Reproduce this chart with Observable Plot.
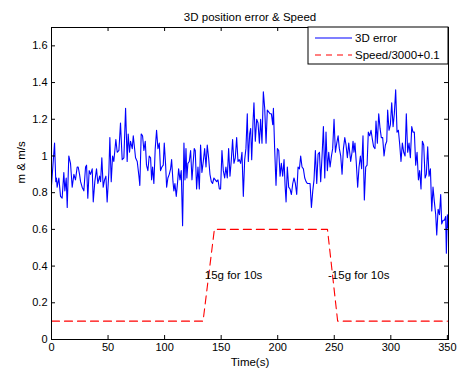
<!DOCTYPE html>
<html><head><meta charset="utf-8">
<script src="https://cdn.jsdelivr.net/npm/d3@7"></script>
<script src="https://cdn.jsdelivr.net/npm/@observablehq/plot@0.6"></script>
<style>body{margin:0;background:#fff}#chart{width:460px;height:374px}</style>
</head><body><div id="chart"></div>
<script>
const titleText = "3D position error & Speed";
const xLabel = "Time(s)";
const yLabel = "m & m/s";
const seriesNames = ["3D error", "Speed/3000+0.1"];
const xTicks = [0, 50, 100, 150, 200, 250, 300, 350];
const yTicks = [0, 0.2, 0.4, 0.6, 0.8, 1, 1.2, 1.4, 1.6];

const errTime = [
0,2.7,3.8,4.4,5.0,6.5,8.0,9.4,10.9,11.8,13.0,13.9,15.3,16.8,18.3,19.8,21.2,22.7,23.6,24.8,25.7,27.1,28.6,30.1,31.0,32.1,33.3,34.5,36.0,36.9,38.3,39.8,41.0,42.5,43.4,44.5,45.7,46.9,48.1,49.2,50.7,51.6,52.8,54.0,55.1,56.9,58.1,59.6,61.0,62.5,64.0,65.5,66.9,67.8,69.0,69.9,71.4,72.3,74.3,75.8,77.3,78.1,79.3,80.5,81.7,82.9,84.0,85.2,86.4,
87.6,88.5,89.4,90.5,91.7,92.9,94.1,95.3,96.4,97.6,98.8,99.7,100.9,101.8,102.9,104.1,105.3,106.2,107.4,108.2,109.1,110.3,111.5,112.4,113.6,114.7,115.9,117.1,118.0,118.9,119.7,120.6,121.8,123.0,124.2,125.1,126.2,127.1,128.3,129.5,130.7,131.8,133.0,134.2,135.4,136.6,137.7,138.9,140.1,141.3,142.4,143.6,144.8,146.0,147.2,148.4,149.5,150.7,151.9,153.1,154.2,155.4,156.6,157.8,159.0,160.1,161.3,162.5,163.7,164.9,166.0,167.2,168.4,169.6,170.8,171.9,173.1,174.0,175.2,
176.1,177.0,178.2,179.0,180.2,181.4,182.6,183.8,184.9,186.1,187.3,188.5,189.7,190.8,192.0,193.2,194.4,195.6,196.2,197.3,198.5,199.7,200.9,202.1,203.2,204.4,205.6,206.5,207.4,208.5,209.7,210.9,212.1,213.3,214.4,215.6,216.8,218.0,219.2,220.3,221.5,222.7,223.9,225.1,226.2,227.4,228.6,229.8,231.0,232.1,233.3,234.5,235.7,236.9,238.0,239.2,240.4,241.6,242.7,243.9,245.1,246.3,247.5,248.6,249.8,251.0,252.2,253.4,254.5,255.7,256.9,258.1,259.3,260.4,261.6,262.8,264.0,
264.5,265.7,266.6,267.4,268.3,269.5,270.7,271.9,273.1,274.2,275.4,276.6,277.8,279.0,280.1,281.3,282.5,283.7,284.8,286.0,286.9,288.1,289.3,290.5,291.6,292.8,294.0,295.2,296.4,297.2,298.4,299.6,300.8,302.0,303.1,304.3,305.5,306.7,307.9,309.0,310.2,311.4,312.6,313.7,314.9,316.1,317.3,318.5,319.6,320.8,322.0,323.2,324.4,325.5,326.7,327.9,329.1,330.3,331.4,332.6,333.8,335.0,336.2,337.3,338.5,339.7,340.6,341.8,343.0,344.1,345.0,346.2,347.4,348.5,349.1,350.0,350.6
];
const errValue = [
0.84,1.07,0.86,0.88,0.83,0.88,0.78,0.77,0.91,0.81,0.88,0.72,1.00,0.96,0.83,0.90,0.87,0.94,0.94,0.90,0.86,0.83,0.81,0.94,0.95,0.77,0.92,0.90,0.93,0.75,0.86,0.93,0.85,0.89,0.86,0.99,0.83,0.87,0.89,0.75,0.91,1.10,0.86,1.00,0.97,1.09,1.02,1.03,1.18,0.98,0.99,1.26,0.97,1.12,1.02,1.08,1.04,1.11,0.99,0.97,0.89,0.84,1.12,1.11,1.03,1.08,0.95,0.92,1.00,
0.99,0.87,0.94,0.85,1.04,1.14,1.04,1.07,0.92,0.94,0.95,1.07,0.95,0.83,0.88,0.90,0.93,0.98,0.86,0.81,0.85,0.78,0.86,0.93,0.87,0.92,0.62,1.07,0.87,1.04,0.88,0.96,0.97,1.03,0.87,0.95,1.04,1.03,0.82,0.94,0.82,1.06,0.91,0.97,1.04,0.94,1.06,0.99,0.90,0.86,0.85,0.88,0.87,0.86,0.87,0.82,0.82,1.03,0.92,0.88,0.94,0.88,1.04,0.89,0.98,1.09,0.96,0.99,1.10,0.97,0.98,0.96,1.02,0.78,0.98,1.04,1.23,0.97,1.12,
1.15,0.98,1.19,1.29,1.08,1.20,1.18,1.07,1.20,1.07,1.35,1.26,1.07,1.25,1.24,1.23,1.23,1.17,1.26,1.04,0.84,1.04,1.03,0.89,0.96,0.89,0.98,0.84,0.75,0.94,0.83,0.82,0.79,0.85,0.88,0.85,0.79,0.94,0.93,1.00,0.94,0.93,0.88,0.86,0.85,0.85,0.85,0.72,0.81,0.87,1.03,0.85,1.01,1.02,0.86,1.00,1.16,0.88,1.13,0.92,1.02,0.94,1.00,1.04,1.20,1.02,1.07,1.11,1.04,1.00,0.90,1.04,1.10,1.06,0.99,1.07,1.00,
0.97,1.02,1.08,1.02,1.07,0.96,0.83,0.94,1.00,0.93,1.11,0.76,0.94,0.95,1.13,1.11,1.14,1.09,1.05,1.04,1.19,1.07,1.23,1.15,1.10,1.10,1.00,1.06,1.08,1.25,1.14,1.17,1.29,1.16,1.23,1.36,1.13,1.14,1.06,0.97,1.07,1.02,1.00,1.23,1.02,1.07,0.99,1.16,1.13,1.13,0.95,1.02,0.87,0.92,0.82,1.08,1.06,0.88,0.90,1.05,0.89,0.93,0.70,0.83,0.75,0.68,0.57,0.71,0.68,0.79,0.63,0.65,0.65,0.67,0.47,0.68,0.61
];
const speedTime = [0, 134, 144, 244, 253, 350];
const speedValue = [0.1, 0.1, 0.6, 0.6, 0.1, 0.1];
const annoTime = [135.5, 244.5];
const annoValue = [0.35, 0.35];
const annoText = ["15g for 10s", "-15g for 10s"];

const n = Math.min(errTime.length, errValue.length);
const err = d3.range(n).map(i => ({t: errTime[i], v: errValue[i]}));
const speed = speedTime.map((t, i) => ({t, v: speedValue[i]}));
const anno = annoTime.map((t, i) => ({t, v: annoValue[i], s: annoText[i]}));

const W = 460, H = 374, mL = 51, mR = 12, mT = 27, mB = 35;
const fw = W - mL - mR, fh = H - mT - mB, tk = 4;
const font = "'Liberation Sans', Arial, Helvetica, sans-serif";

const plot = Plot.plot({
  width: W, height: H,
  marginLeft: mL, marginRight: mR, marginTop: mT, marginBottom: mB,
  x: {domain: [0, 351]},
  y: {domain: [0, 1.7]},
  style: {fontFamily: font, fontSize: "10.5px", color: "black", background: "white", overflow: "visible"},
  marks: [
    Plot.line(speed, {x: "t", y: "v", stroke: "#ff0000", strokeWidth: 1.1, strokeDasharray: "8,5"}),
    Plot.line(err, {x: "t", y: "v", stroke: "#0000ff", strokeWidth: 1.1, strokeLinejoin: "round"}),
    Plot.text(anno, {x: "t", y: "v", text: "s", textAnchor: "start", fontSize: 11.5, fill: "black"}),
    Plot.frame({stroke: "black", strokeWidth: 1}),
    Plot.tickX(xTicks, {x: d => d, insetTop: fh - tk, stroke: "black"}),
    Plot.tickX(xTicks, {x: d => d, insetBottom: fh - tk, stroke: "black"}),
    Plot.tickY(yTicks, {y: d => d, insetRight: fw - tk, stroke: "black"}),
    Plot.tickY(yTicks, {y: d => d, insetLeft: fw - tk, stroke: "black"}),
    Plot.axisX({ticks: xTicks, tickSize: 0, tickPadding: 4, label: null, tickFormat: d => String(d), fontSize: 11}),
    Plot.axisY({ticks: yTicks, tickSize: 0, tickPadding: 4, label: null, tickFormat: d => String(d), fontSize: 11}),
    Plot.text([titleText], {frameAnchor: "top", dy: -15, text: d => d, fontSize: 11.5, fill: "black"}),
    Plot.text([xLabel], {frameAnchor: "bottom", dy: 26, text: d => d, fontSize: 11.5, fill: "black"}),
    Plot.text([yLabel], {frameAnchor: "left", dx: -30, rotate: -90, text: d => d, fontSize: 11.5, fill: "black"})
  ]
});
document.getElementById("chart").appendChild(plot);

// legend
const svg = d3.select(plot);
const lg = svg.append("g").attr("font-family", font).attr("font-size", 11.5).attr("text-anchor", "start");
const lx = 308, ly = 27, lw = W - mR - lx, lh = 37;
lg.append("rect").attr("x", lx).attr("y", ly).attr("width", lw).attr("height", lh)
  .attr("fill", "white").attr("stroke", "black").attr("stroke-width", 1);
const rows = [{c: "#0000ff", dash: null, y: 38}, {c: "#ff0000", dash: "6,5", y: 55}];
rows.forEach((r, i) => {
  lg.append("line").attr("x1", 315).attr("x2", 352).attr("y1", r.y).attr("y2", r.y)
    .attr("stroke", r.c).attr("stroke-width", 1.1).attr("stroke-dasharray", r.dash);
  lg.append("text").attr("x", 355).attr("y", r.y + 4).attr("fill", "black")
    .attr("text-anchor", "start").text(seriesNames[i]);
});
</script>
</body></html>
